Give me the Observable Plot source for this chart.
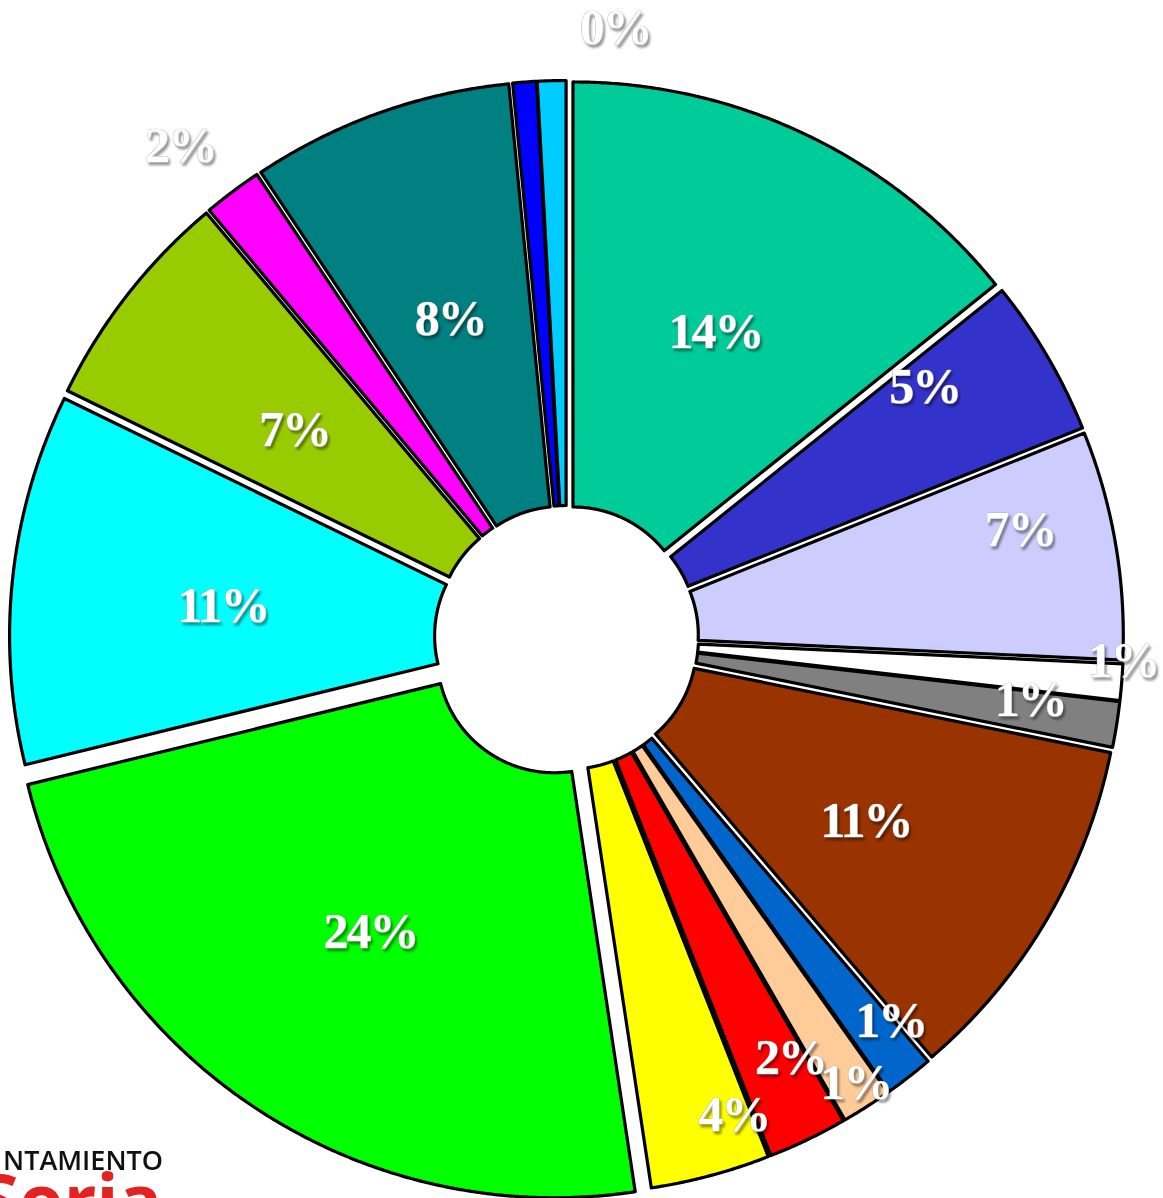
<!DOCTYPE html>
<html>
<head>
<meta charset="utf-8">
<script src="https://cdn.jsdelivr.net/npm/d3@7"></script>
<script src="https://cdn.jsdelivr.net/npm/@observablehq/plot@0.6"></script>
<style>
  html, body { margin: 0; padding: 0; background: #fff; overflow: hidden; width: 1163px; height: 1198px; }
  #chart { position: absolute; left: 0; top: 0; }
  #chart svg text { letter-spacing: -2px; }
  #chart svg g[aria-label="text"] { filter: url(#labelShadow); }
  #logo { position: absolute; left: 0; top: 0; pointer-events: none; }
</style>
</head>
<body>
<div id="chart"></div>
<svg id="logo" width="1163" height="1198">
  <defs>
    <filter id="labelShadow" x="-5%" y="-5%" width="110%" height="110%">
      <feDropShadow dx="2" dy="3" stdDeviation="0.9" flood-color="#000" flood-opacity="0.4"/>
    </filter>
  </defs>
  <text x="3" y="1170" font-family="Open Sans" font-weight="600" font-size="27" fill="#111" textLength="160" lengthAdjust="spacingAndGlyphs">NTAMIENTO</text>
  <text x="162" y="1226" text-anchor="end" font-family="Open Sans" font-weight="700" font-size="72" fill="#e32322">Soria</text>
</svg>
<script>
// ---- data (clockwise from 12 o'clock) ----
const categories = ["C1","C2","C3","C4","C5","C6","C7","C8","C9","C10","C11","C12","C13","C14","C15","C16","C17"];
const values     = [14.22, 4.69, 6.81, 1.08, 1.36, 10.55, 1.45, 1.5, 2.36, 3.56, 23.55, 11.03, 6.67, 1.75, 7.8, 0.7, 0.85];
const pctLabels  = ["14%","5%","7%","1%","1%","11%","1%","1%","2%","4%","24%","11%","7%","2%","8%","0%","0%"];
const colors     = ["#00CC99","#3333CC","#CCCCFF","#FFFFFF","#808080","#993300","#0066CC","#FFCC99","#FF0000","#FFFF00","#00FF00","#00FFFF","#99CC00","#FF00FF","#008080","#0000FF","#00CCFF"];

// ---- layout (not data) ----
const CX = 566, CY = 637, R_IN = 117, R_OUT = 542;
const explodePx   = [15,15,15,15,15,15,15,15,15,15,22,15,15,15,15,15,15];
const labelRadius = [340,437,466,557,468,351,502,531,476,506,354,345,342,625,339,611,611];
const labelNudge  = [0.4,-4.6,-3.7,-2.2,-1.3,1.0,-2.3,-0.4,-2.4,-4.3,-0.2,-0.8,-0.7,-1.3,-0.4,8.9,6.1]; // degrees

const total = d3.sum(values);
let acc = 0;
const slices = values.map((v, i) => {
  const a0 = acc / total * 2 * Math.PI;
  acc += v;
  const a1 = acc / total * 2 * Math.PI;
  return {i, cat: categories[i], color: colors[i], a0, a1, mid: (a0 + a1) / 2, label: pctLabels[i]};
});

const pts = [];
for (const s of slices) {
  const d = explodePx[s.i];
  const ox = d * Math.sin(s.mid), oy = -d * Math.cos(s.mid);
  const n = Math.max(2, Math.ceil((s.a1 - s.a0) / 0.005));
  for (let k = 0; k <= n; k++) {
    const a = s.a0 + (s.a1 - s.a0) * k / n;
    pts.push({cat: s.cat, color: s.color, x: CX + ox + R_OUT * Math.sin(a), y: CY + oy - R_OUT * Math.cos(a)});
  }
  for (let k = n; k >= 0; k--) {
    const a = s.a0 + (s.a1 - s.a0) * k / n;
    pts.push({cat: s.cat, color: s.color, x: CX + ox + R_IN * Math.sin(a), y: CY + oy - R_IN * Math.cos(a)});
  }
}

// labels: one per slice (the two 0% labels of the tiny slices share a spot; draw it once)
const labels = slices.filter(s => s.i !== 15).map(s => {
  const a = s.mid + labelNudge[s.i] * Math.PI / 180;
  const r = labelRadius[s.i];
  return {label: s.label, x: CX + r * Math.sin(a), y: CY - r * Math.cos(a)};
});

const svg = Plot.plot({
  width: 1163, height: 1198, margin: 0,
  x: {domain: [0, 1163], range: [0, 1163], axis: null},
  y: {domain: [0, 1198], range: [0, 1198], axis: null},
  color: {type: "identity"},
  marks: [
    Plot.line(pts, {x: "x", y: "y", z: "cat", fill: "color", stroke: "#000", strokeWidth: 3.2,
                    strokeLinejoin: "round", curve: "linear-closed"}),
    Plot.text(labels, {x: "x", y: "y", text: "label", fontFamily: "Liberation Serif", fontWeight: "bold",
                       fontSize: 50, textAnchor: "middle", lineAnchor: "middle",
                       fill: "#fff", stroke: "#a0a0a0", strokeWidth: 0.7})
  ]
});

document.getElementById("chart").appendChild(svg);
</script>
</body>
</html>
